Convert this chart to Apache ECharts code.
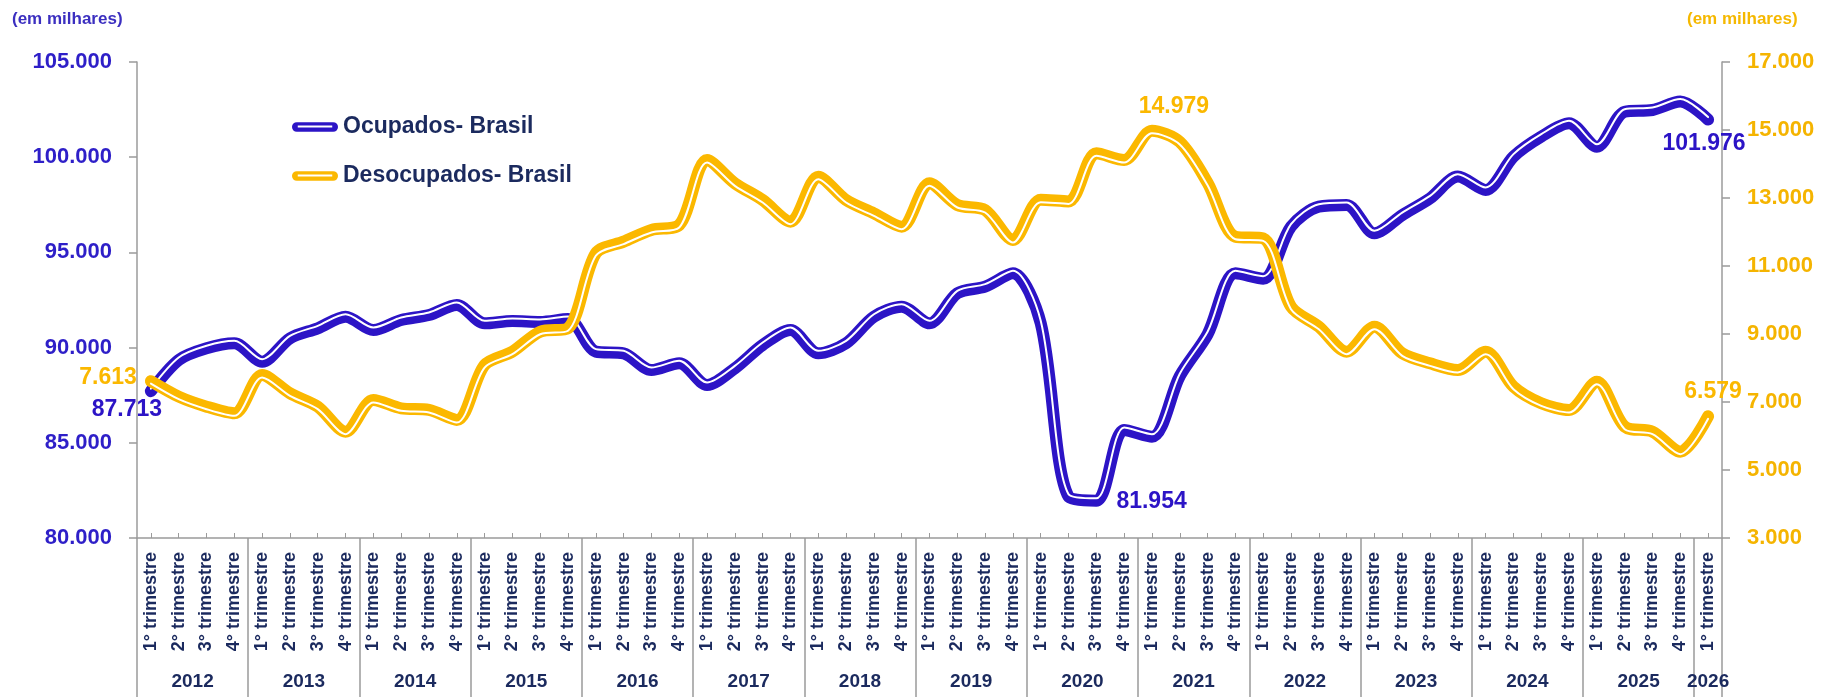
<!DOCTYPE html>
<html>
<head>
<meta charset="utf-8">
<title>Ocupados e Desocupados - Brasil</title>
<script src="https://cdn.jsdelivr.net/npm/echarts@6/dist/echarts.min.js"></script>
<style>
    html, body { margin: 0; padding: 0; background: #fff; }
    #chart { width: 1822px; height: 697px; }
</style>
</head>
<body>
<div id="chart"></div>
<script>
// anos e trimestres do eixo x
let anos = ['2012', '2013', '2014', '2015', '2016', '2017', '2018', '2019', '2020', '2021', '2022', '2023', '2024', '2025', '2026'];
let trimestres = ['1° trimestre', '2° trimestre', '3° trimestre', '4° trimestre'];
let trimestresUltimoAno = 1;

// em milhares
let ocupados = [
    87713, 89349, 89963, 90226,
    89260, 90488, 91013, 91620,
    90925, 91450, 91713, 92238,
    91275, 91400, 91350, 91500,
    89790, 89700, 88823, 89175,
    88036, 88910, 90137, 90925,
    89700, 90226, 91620, 92150,
    91275, 92850, 93200, 93900,
    91275, 82170, 81954, 85673,
    85320, 88500, 90700, 93900,
    93620, 96350, 97400, 97490,
    96000, 96960, 97840, 98980,
    98280, 100030, 101080, 101780,
    100550, 102390, 102480, 102920,
    101976
];
let desocupados = [
    7613, 7157, 6863, 6667,
    7795, 7256, 6863, 6127,
    7059, 6814, 6765, 6471,
    8088, 8480, 9068, 9168,
    11374, 11716, 12060, 12206,
    14118, 13432, 12941, 12304,
    13627, 12941, 12550, 12157,
    13432, 12794, 12647, 11765,
    12950, 12900, 14314, 14118,
    14979, 14650, 13450, 11863,
    11814, 9804, 9216, 8480,
    9216, 8432, 8137, 7941,
    8480, 7451, 6962, 6765,
    7598, 6275, 6127, 5539,
    6579
];

let corOcup = '#2c14c6';
let corDesoc = '#fbb800';
let corEixo = '#9b9b9b';
let corTexto = '#1b2a5e';
let fonte = '"Liberation Sans", Arial, sans-serif';

let categorias = [];
anos.forEach((ano, k) => {
    let n = k === anos.length - 1 ? trimestresUltimoAno : trimestres.length;
    for (let q = 0; q < n; q++) categorias.push(trimestres[q]);
});

// posições (em categorias) das divisões de ano e dos rótulos de ano
let divisoesAno = [], centrosAno = [];
anos.forEach((ano, k) => {
    divisoesAno.push(k * 4);
    centrosAno.push(k === anos.length - 1 ? k * 4 + trimestresUltimoAno / 2 : k * 4 + 2);
});
divisoesAno.push(categorias.length);

const fmt = (v) => String(Math.round(v)).replace(/\B(?=(\d{3})+(?!\d))/g, '.');

const rotulo = (position, offset, color) => ({
    show: true, position, offset, color,
    fontFamily: fonte, fontWeight: 'bold', fontSize: 23,
    formatter: (p) => fmt(p.value)
});

let rotulosOcup = {
    0: rotulo('bottom', [-24, 2], corOcup),
    34: rotulo('right', [15, 1], corOcup),
    56: rotulo('bottom', [-4, 8], corOcup)
};
let rotulosDesoc = {
    0: rotulo('left', [-9, -4], corDesoc),
    36: rotulo('top', [22, -8], corDesoc),
    56: rotulo('top', [5, -8], corDesoc)
};
const comRotulos = (arr, rot) => arr.map((v, i) => rot[i] ? { value: v, label: rot[i] } : v);

// icone da legenda: barra arredondada com filete branco
let iconeLegenda = 'path://M5,0 H43 A5,5 0 0 1 43,10 H5 A5,5 0 0 1 5,0 Z M6,3.5 V5.5 H42 V3.5 Z';

let yEixo = (pos, min, max, interval, color) => ({
    type: 'value', position: pos, min, max, interval,
    axisLine: { show: true, lineStyle: { color: corEixo, width: 1.5 } },
    axisTick: { show: true, length: 8, lineStyle: { color: corEixo, width: 1.5 } },
    splitLine: { show: false },
    axisLabel: {
        margin: 25, color, fontFamily: fonte, fontWeight: 'bold', fontSize: 22,
        formatter: fmt
    }
});

let option = {
    animation: false,
    backgroundColor: '#fff',
    grid: { left: 137, right: 100, top: 62, bottom: 159, containLabel: false },
    graphic: [
        {
            type: 'text', left: 12, top: 11,
            style: { text: '(em milhares)', fill: '#3b2fc0', font: 'bold 17px "Liberation Sans", Arial, sans-serif' }
        },
        {
            type: 'text', left: 1687, top: 11,
            style: { text: '(em milhares)', fill: '#f5b800', font: 'bold 17px "Liberation Sans", Arial, sans-serif' }
        }
    ],
    legend: {
        orient: 'vertical',
        left: 287,
        top: 110,
        itemWidth: 46,
        itemHeight: 10,
        itemGap: 25,
        textStyle: { color: corTexto, fontSize: 23, fontWeight: 'bold', lineHeight: 24, fontFamily: fonte },
        data: [
            { name: 'Ocupados- Brasil', icon: iconeLegenda },
            { name: 'Desocupados- Brasil', icon: iconeLegenda }
        ]
    },
    xAxis: [
        {
            type: 'category',
            data: categorias,
            boundaryGap: true,
            axisLine: { lineStyle: { color: corEixo, width: 1.5 } },
            axisTick: { show: true, inside: true, length: 5, alignWithLabel: true, lineStyle: { color: corEixo } },
            axisLabel: {
                interval: 0, rotate: 90, margin: 14,
                color: corTexto, fontFamily: fonte, fontWeight: 'bold', fontSize: 18
            }
        },
        {
            type: 'value',
            position: 'bottom',
            min: 0,
            max: categorias.length,
            axisLine: { show: false },
            splitLine: { show: false },
            axisTick: { show: true, length: 159, customValues: divisoesAno, lineStyle: { color: corEixo, width: 1.5 } },
            axisLabel: {
                customValues: centrosAno, margin: 134,
                color: corTexto, fontFamily: fonte, fontWeight: 'bold', fontSize: 19,
                formatter: (v) => anos[Math.floor(v / 4)]
            }
        }
    ],
    yAxis: [
        yEixo('left', 80000, 105000, 5000, '#2e1fc8'),
        yEixo('right', 3000, 17000, 2000, '#f5b400'),
        // eixos ocultos só para deslocar o filete branco alguns pixels
        { type: 'value', show: false, min: 80000 - 131, max: 105000 - 131 },
        { type: 'value', show: false, min: 3000 + 74, max: 17000 + 74 }
    ],
    series: [
        {
            name: 'Ocupados- Brasil',
            type: 'line',
            yAxisIndex: 0,
            smooth: 0.3,
            symbol: 'circle',
            symbolSize: 0.1,
            itemStyle: { color: corOcup },
            lineStyle: { color: corOcup, width: 12, cap: 'round', join: 'round' },
            data: comRotulos(ocupados, rotulosOcup),
            z: 2
        },
        {
            name: 'ocup-filete',
            type: 'line',
            yAxisIndex: 2,
            smooth: 0.3,
            showSymbol: false,
            silent: true,
            lineStyle: { color: '#fff', width: 2, cap: 'round', join: 'round' },
            data: ocupados,
            z: 3
        },
        {
            name: 'Desocupados- Brasil',
            type: 'line',
            yAxisIndex: 1,
            smooth: 0.3,
            symbol: 'circle',
            symbolSize: 0.1,
            itemStyle: { color: corDesoc },
            lineStyle: { color: corDesoc, width: 12, cap: 'round', join: 'round' },
            data: comRotulos(desocupados, rotulosDesoc),
            z: 4
        },
        {
            name: 'desoc-filete',
            type: 'line',
            yAxisIndex: 3,
            smooth: 0.3,
            showSymbol: false,
            silent: true,
            lineStyle: { color: '#fff', width: 2, cap: 'round', join: 'round' },
            data: desocupados,
            z: 5
        }
    ]
};

let myChart = echarts.init(document.getElementById('chart'));
myChart.setOption(option);
window.addEventListener('resize', myChart.resize);
</script>
</body>
</html>
